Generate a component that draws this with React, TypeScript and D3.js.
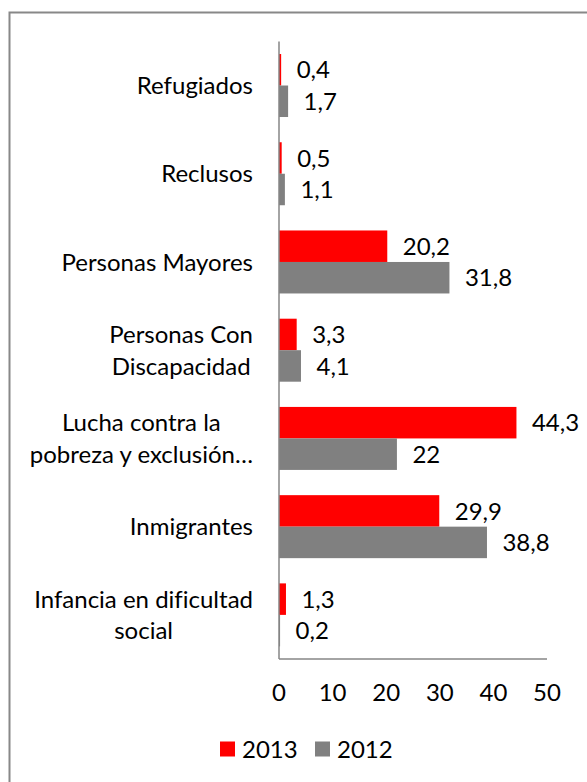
import React, { useEffect, useRef } from "react";
import * as d3 from "d3";

const categories: string[][] = [
  ["Refugiados"],
  ["Reclusos"],
  ["Personas Mayores"],
  ["Personas Con", "Discapacidad"],
  ["Lucha contra la", "pobreza y exclusión…"],
  ["Inmigrantes"],
  ["Infancia en dificultad", "social"],
];
const values2013: number[] = [0.4, 0.5, 20.2, 3.3, 44.3, 29.9, 1.3];
const values2012: number[] = [1.7, 1.1, 31.8, 4.1, 22, 38.8, 0.2];
const seriesNames: string[] = ["2013", "2012"];
const seriesColors: string[] = ["#FF0000", "#808080"];
const xTicks: number[] = [0, 10, 20, 30, 40, 50];

const W = 587;
const H = 782;
const FONT = "Lato, 'Open Sans', sans-serif";
const FS = 24;

export default function App() {
  const ref = useRef<SVGSVGElement>(null);

  useEffect(() => {
    const svg = d3.select(ref.current);
    svg.selectAll("*").remove();
    svg.style("font-variant-ligatures", "none");

    const left = 279;
    const right = 547;
    const top = 41.4;
    const bottom = 659;

    // chart border
    svg
      .append("rect")
      .attr("x", 9.5)
      .attr("y", 12.5)
      .attr("width", W + 20)
      .attr("height", H + 20)
      .attr("fill", "none")
      .attr("stroke", "#888888")
      .attr("stroke-width", 2);

    const x = d3.scaleLinear().domain([0, 50]).range([left, right]);
    const idx = categories.map((_, i) => String(i));
    const y = d3
      .scaleBand<string>()
      .domain(idx)
      .range([top, bottom])
      .paddingInner(0.286)
      .paddingOuter(0.143);
    const ys = d3
      .scaleBand<string>()
      .domain(seriesNames)
      .range([0, y.bandwidth()]);

    const series = [values2013, values2012];
    const g = svg.append("g");

    series.forEach((vals, s) => {
      const name = seriesNames[s];
      vals.forEach((v, i) => {
        const y0 = (y(String(i)) as number) + (ys(name) as number);
        g.append("rect")
          .attr("x", x(0))
          .attr("y", y0)
          .attr("width", x(v) - x(0))
          .attr("height", ys.bandwidth())
          .attr("fill", seriesColors[s]);
        g.append("text")
          .attr("x", x(v) + 15.5)
          .attr("y", y0 + ys.bandwidth() / 2)
          .attr("dy", "0.36em")
          .attr("font-family", FONT)
          .attr("font-size", FS)
          .attr("fill", "#000")
          .text(String(v).replace(".", ","));
      });
    });

    // axes lines
    svg
      .append("line")
      .attr("x1", x(0))
      .attr("x2", x(0))
      .attr("y1", top)
      .attr("y2", bottom)
      .attr("stroke", "#868686")
      .attr("stroke-width", 1.5);
    svg
      .append("line")
      .attr("x1", x(0))
      .attr("x2", right)
      .attr("y1", bottom)
      .attr("y2", bottom)
      .attr("stroke", "#868686")
      .attr("stroke-width", 1.5);

    // tick labels
    xTicks.forEach((t) => {
      svg
        .append("text")
        .attr("x", x(t))
        .attr("y", 692)
        .attr("dy", "0.36em")
        .attr("text-anchor", "middle")
        .attr("font-family", FONT)
        .attr("font-size", FS)
        .attr("fill", "#000")
        .text(String(t));
    });

    // category labels
    const labelRight = 253;
    const lineH = 31.5;
    categories.forEach((lines, i) => {
      const cy = (y(String(i)) as number) + y.bandwidth() / 2;
      const texts = lines.map((ln) =>
        svg
          .append("text")
          .attr("font-family", FONT)
          .attr("font-size", FS)
          .attr("fill", "#000")
          .attr("text-anchor", "middle")
          .text(ln)
      );
      const widths = texts.map((t) => (t.node() as SVGTextElement).getComputedTextLength());
      const maxW = Math.max(...widths);
      const cx = labelRight - maxW / 2;
      texts.forEach((t, k) => {
        t.attr("x", cx)
          .attr("y", cy + (k - (lines.length - 1) / 2) * lineH)
          .attr("dy", "0.36em");
      });
    });

    // legend
    const legY = 749;
    const legItems = [
      { name: seriesNames[0], color: seriesColors[0], x: 220 },
      { name: seriesNames[1], color: seriesColors[1], x: 315 },
    ];
    legItems.forEach((it) => {
      svg
        .append("rect")
        .attr("x", it.x)
        .attr("y", legY - 7.5)
        .attr("width", 15)
        .attr("height", 15)
        .attr("fill", it.color);
      svg
        .append("text")
        .attr("x", it.x + 22)
        .attr("y", legY)
        .attr("dy", "0.36em")
        .attr("font-family", FONT)
        .attr("font-size", FS)
        .attr("fill", "#000")
        .text(it.name);
    });
  }, []);

  return (
    <svg
      ref={ref}
      width={W}
      height={H}
      style={{ position: "absolute", left: 0, top: 0, background: "#fff" }}
    />
  );
}
